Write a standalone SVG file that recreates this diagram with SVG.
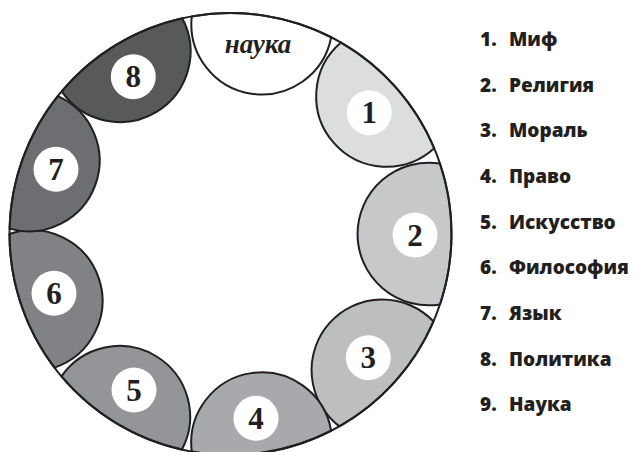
<svg xmlns="http://www.w3.org/2000/svg" width="637" height="452" viewBox="0 0 637 452">
<style>
.seg{stroke:#231f20;stroke-width:2;stroke-linejoin:round}
.badge{fill:#fff}
.num{font-family:"Liberation Serif",serif;font-weight:bold;font-size:31px;fill:#231f20;text-anchor:middle}
.leg{font-family:"Open Sans",sans-serif;font-weight:800;font-size:19px;fill:#231f20}
</style>
<rect width="637" height="452" fill="#fff"/>
<g id="segments">
<g id="nauka">
<path class="seg" fill="#fff" d="M191.74,16.43 A221,221 0 0 1 331.17,37.26 A70.55,70.55 0 0 1 191.74,16.43 Z"/>
<text x="258" y="53" font-family="Liberation Serif, serif" font-weight="bold" font-style="italic" font-size="27" fill="#231f20" text-anchor="middle">наука</text>
</g>
<g id="s1">
<path class="seg" fill="#dcddde" d="M341,42.61 A221,221 0 0 1 434.23,148.36 A70.5,70.5 0 1 1 341,42.61 Z"/>
<circle class="badge" cx="369.3" cy="112.7" r="22.5"/>
<text class="num" x="369.3" y="123.3">1</text>
</g>
<g id="s2">
<path class="seg" fill="#c7c8ca" d="M439.96,163.51 A221,221 0 0 1 439.96,304.49 A71.35,71.35 0 1 1 439.96,163.51 Z"/>
<circle class="badge" cx="415" cy="235" r="22.5"/>
<text class="num" x="415" y="245.6">2</text>
</g>
<g id="s3">
<path class="seg" fill="#bcbec0" d="M433.48,321.42 A221,221 0 0 1 339.32,426.35 A70.71,70.71 0 1 1 433.48,321.42 Z"/>
<circle class="badge" cx="368.3" cy="357.7" r="22.5"/>
<text class="num" x="368.3" y="368.3">3</text>
</g>
<g id="s4">
<path class="seg" fill="#a7a9ac" d="M331.17,430.74 A221,221 0 0 1 191.74,451.57 A70.51,70.51 0 0 1 331.17,430.74 Z"/>
<circle class="badge" cx="256" cy="418.3" r="22.5"/>
<text class="num" x="256" y="428.9">4</text>
</g>
<g id="s5">
<path class="seg" fill="#939598" d="M181.91,449.59 A221,221 0 0 1 61.47,376.37 A70.6,70.6 0 0 1 181.91,449.59 Z"/>
<circle class="badge" cx="134" cy="390" r="22.5"/>
<text class="num" x="134" y="400.6">5</text>
</g>
<g id="s6">
<path class="seg" fill="#808285" d="M54.47,367.62 A221,221 0 0 1 9.5,234 A70.49,70.49 0 0 1 54.47,367.62 Z"/>
<circle class="badge" cx="54" cy="293.3" r="22.5"/>
<text class="num" x="54" y="303.9">6</text>
</g>
<g id="s7">
<path class="seg" fill="#6d6e71" d="M9.57,228.6 A221,221 0 0 1 57.78,96.12 A70.67,70.67 0 0 1 9.57,228.6 Z"/>
<circle class="badge" cx="56" cy="169.3" r="22.5"/>
<text class="num" x="56" y="179.9">7</text>
</g>
<g id="s8">
<path class="seg" fill="#58595b" d="M61.7,91.35 A221,221 0 0 1 182.29,18.32 A70.6,70.6 0 0 1 61.7,91.35 Z"/>
<circle class="badge" cx="133.3" cy="76.7" r="22.5"/>
<text class="num" x="133.3" y="87.3">8</text>
</g>
</g>
<g id="connectors">
<circle id="ring" cx="230.5" cy="234" r="221" fill="none" stroke="#231f20" stroke-width="2"/>
</g>
<g id="legend" class="leg">
<text y="46"><tspan x="480">1. </tspan><tspan x="509">Миф</tspan></text>
<text y="91.7"><tspan x="480">2. </tspan><tspan x="509">Религия</tspan></text>
<text y="137.4"><tspan x="480">3. </tspan><tspan x="509">Мораль</tspan></text>
<text y="183"><tspan x="480">4. </tspan><tspan x="509">Право</tspan></text>
<text y="228.7"><tspan x="480">5. </tspan><tspan x="509">Искусство</tspan></text>
<text y="274.4"><tspan x="480">6. </tspan><tspan x="509">Философия</tspan></text>
<text y="320"><tspan x="480">7. </tspan><tspan x="509">Язык</tspan></text>
<text y="365.7"><tspan x="480">8. </tspan><tspan x="509">Политика</tspan></text>
<text y="411.4"><tspan x="480">9. </tspan><tspan x="509">Наука</tspan></text>
</g>
</svg>
